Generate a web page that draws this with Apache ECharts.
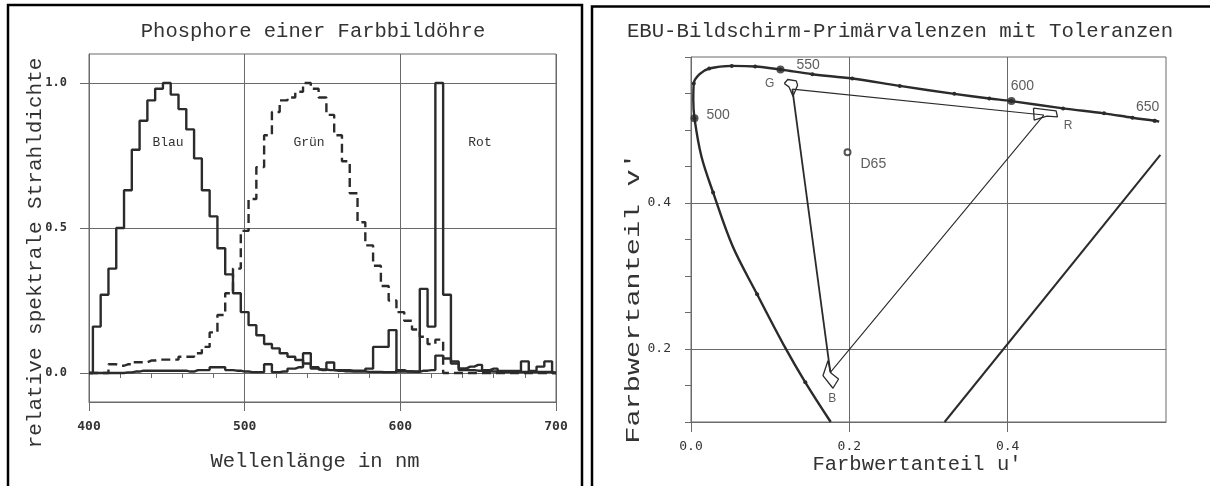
<!DOCTYPE html>
<html>
<head>
<meta charset="utf-8">
<script src="https://cdn.jsdelivr.net/npm/echarts@6/dist/echarts.min.js"></script>
<style>
  html, body { margin: 0; padding: 0; background: #fff; }
  #chart { width: 1210px; height: 486px; }
</style>
</head>
<body>
<div id="chart"></div>
<script>
// ---- linkes Diagramm: Phosphore, 5-nm-Klassen (Klassenmitte) ----
const wavelengths = [400, 405, 410, 415, 420, 425, 430, 435, 440, 445, 450, 455, 460, 465, 470, 475, 480, 485, 490, 495,
  500, 505, 510, 515, 520, 525, 530, 535, 540, 545, 550, 555, 560, 565, 570, 575, 580, 585, 590, 595,
  600, 605, 610, 615, 620, 625, 630, 635, 640, 645, 650, 655, 660, 665, 670, 675, 680, 685, 690, 695, 700];
const blauValues = [0, 0.16, 0.27, 0.36, 0.50, 0.63, 0.77, 0.87, 0.94, 0.98, 1.00, 0.96, 0.91, 0.84, 0.74, 0.63, 0.54, 0.43, 0.34, 0.275,
  0.21, 0.165, 0.13, 0.10, 0.085, 0.068, 0.056, 0.045, 0.033, 0.02, 0.012, 0.01, 0.008, 0.006, 0.005, 0.005, 0.004, 0.004, 0.003, 0.003,
  0.01, 0.005, 0.004, 0.008, 0.01, 0.06, 0.05, 0.033, 0.016, 0.022, 0.028, 0.01, 0.015, 0.007, 0.007, 0.007, 0.04, 0.007, 0.022, 0.04, 0];
const gruenValues = [0, 0, 0, 0.03, 0.025, 0.03, 0.037, 0.037, 0.043, 0.046, 0.046, 0.046, 0.056, 0.056, 0.068, 0.09, 0.14, 0.20, 0.275, 0.36,
  0.49, 0.60, 0.71, 0.82, 0.90, 0.94, 0.95, 0.97, 1.00, 0.98, 0.95, 0.89, 0.82, 0.73, 0.62, 0.52, 0.44, 0.37, 0.30, 0.25,
  0.21, 0.18, 0.15, 0.125, 0.10, 0.115, 0, 0, 0, 0, 0, 0, 0, 0, 0, 0, 0, 0, 0, 0, 0];
const rotValues = [0, 0, 0, 0, 0, 0.002, 0.005, 0.008, 0.008, 0.008, 0.008, 0.008, 0.008, 0.005, 0.01, 0.01, 0.02, 0.02, 0.01, 0.008,
  0.005, 0.003, 0.003, 0.03, 0.003, 0.005, 0.015, 0.02, 0.068, 0.015, 0.01, 0.036, 0.01, 0.01, 0.008, 0.008, 0.015, 0.09, 0.09, 0.148,
  0.005, 0.005, 0.005, 0.29, 0.16, 1.0, 0.27, 0.04, 0.01, 0.01, 0.008, 0.006, 0.005, 0.004, 0.004, 0.004, 0.004, 0.004, 0.004, 0.004, 0];
const spectrumYTicks = [0, 0.5, 1.0];

// ---- rechtes Diagramm: u'v'-Farbtafel ----
const locusU = [0.1765, 0.1444, 0.1188, 0.0835, 0.0525, 0.0279, 0.0132, 0.0044, 0.0029, 0.0035, 0.0108, 0.0230, 0.0515,
  0.0810, 0.1130, 0.1533, 0.2038, 0.2638, 0.3326, 0.3768, 0.4048, 0.4700, 0.5217, 0.5576, 0.5856, 0.5914];
const locusV = [0.100, 0.1544, 0.2022, 0.2750, 0.3410, 0.4145, 0.4636, 0.5160, 0.5410, 0.5637, 0.5764, 0.5842, 0.5878,
  0.5870, 0.5828, 0.5764, 0.5705, 0.5604, 0.5495, 0.5432, 0.5396, 0.5296, 0.5228, 0.5168, 0.5127, 0.5114];
const locusDot = [0, 1, 0, 1, 0, 1, 0, 1, 0, 1, 0, 1, 1, 1, 1, 1, 1, 1, 1, 1, 1, 1, 1, 1, 1, 0];
const markedNm = ['500', '550', '600', '650'];
const markedU = [0.0044, 0.1130, 0.4048, 0.5856];
const markedV = [0.5160, 0.5828, 0.5396, 0.5127];
const purpleU = [0.3203, 0.5929];
const purpleV = [0.100, 0.4659];
const primaryNames = ['G', 'R', 'B'];
const primaryU = [0.128, 0.4456, 0.176];
const primaryV = [0.556, 0.5205, 0.168];
const tolGU = [0.1178, 0.1222, 0.1330, 0.1346, 0.1288, 0.1237, 0.1178];
const tolGV = [0.5637, 0.5692, 0.5673, 0.5614, 0.5464, 0.5591, 0.5637];
const tolRU = [0.4326, 0.4612, 0.4629, 0.4495, 0.4335, 0.4326];
const tolRV = [0.5300, 0.5263, 0.5181, 0.5190, 0.5136, 0.5300];
const tolBU = [0.1730, 0.1667, 0.1793, 0.1864, 0.1768, 0.1730];
const tolBV = [0.1839, 0.1634, 0.1462, 0.1589, 0.1671, 0.1839];
const d65U = [0.1977];
const d65V = [0.4696];
const uvXTicks = [0, 0.2, 0.4];
const uvYTicks = [0.1, 0.2, 0.4];
const uvYLabels = [0.2, 0.4];
const uvMinorTicks = [0.1, 0.15, 0.2, 0.25, 0.3, 0.35, 0.4, 0.45, 0.5, 0.55, 0.6];

const pairs = (xs, ys) => xs.map((x, i) => [x, ys[i]]);

const ink = '#2b2b2b';
const gridInk = '#6a6a6a';
const textInk = '#333';
const mono = '"Liberation Mono", "DejaVu Sans Mono", monospace';
const tickFont = { fontFamily: '"DejaVu Sans Mono", monospace', fontSize: 13, fontWeight: 'bold', color: textInk };

const chart = echarts.init(document.getElementById('chart'), null, { renderer: 'canvas' });

const option = {
  animation: false,
  backgroundColor: '#fff',
  grid: [
    { left: 89, top: 54, width: 467, height: 348, show: true, borderColor: gridInk, borderWidth: 1 },
    { left: 691, top: 57, width: 475, height: 365, show: true, borderColor: gridInk, borderWidth: 1 }
  ],
  xAxis: [
    {
      gridIndex: 0, type: 'value', min: 400, max: 700, interval: 100, position: 'bottom',
      axisLine: { show: true, onZero: false, lineStyle: { color: gridInk } },
      axisTick: { show: true, length: 9, lineStyle: { color: gridInk } },
      axisLabel: Object.assign({ margin: 18 }, tickFont),
      splitLine: { show: true, lineStyle: { color: gridInk, width: 1 } }
    },
    {
      // Teilstriche auf der Nulllinie
      gridIndex: 0, type: 'value', min: 400, max: 700, interval: 20, position: 'bottom',
      axisLine: { show: true, onZero: true, lineStyle: { color: gridInk } },
      axisTick: { show: true, length: 5, lineStyle: { color: gridInk } },
      axisLabel: { show: false },
      splitLine: { show: false }
    },
    {
      gridIndex: 1, type: 'value', min: 0, max: 0.6, position: 'bottom',
      axisLine: { show: true, onZero: false, lineStyle: { color: gridInk } },
      axisTick: { show: true, length: 10, customValues: uvXTicks, lineStyle: { color: gridInk } },
      axisLabel: Object.assign({ margin: 18, customValues: uvXTicks, formatter: v => v.toFixed(1) }, tickFont, { fontWeight: 'normal' }),
      splitLine: { show: true, lineStyle: { color: gridInk, width: 1 } }
    }
  ],
  yAxis: [
    {
      gridIndex: 0, type: 'value', min: -0.1, max: 1.1, position: 'left',
      axisLine: { show: true, onZero: false, lineStyle: { color: gridInk } },
      axisTick: { show: true, length: 9, customValues: spectrumYTicks, lineStyle: { color: gridInk } },
      axisLabel: Object.assign({ margin: 22, customValues: spectrumYTicks, formatter: v => v.toFixed(1) }, tickFont, { fontSize: 12 }),
      splitLine: { show: true, lineStyle: { color: gridInk, width: 1 } }
    },
    {
      gridIndex: 1, type: 'value', min: 0.1, max: 0.6, position: 'left',
      axisLine: { show: true, onZero: false, lineStyle: { color: gridInk } },
      axisTick: { show: false, customValues: uvYTicks },
      axisLabel: Object.assign({ margin: 20, customValues: uvYLabels, formatter: v => v.toFixed(1) }, tickFont, { fontWeight: 'normal' }),
      splitLine: { show: true, lineStyle: { color: gridInk, width: 1 } }
    },
    {
      gridIndex: 1, type: 'value', min: 0.1, max: 0.6, position: 'left',
      axisLine: { show: false, onZero: false },
      axisTick: { show: true, length: 6, customValues: uvMinorTicks, lineStyle: { color: gridInk } },
      axisLabel: { show: false },
      splitLine: { show: false }
    }
  ],
  series: [
    {
      name: 'Blau', type: 'line', step: 'middle', xAxisIndex: 0, yAxisIndex: 0,
      data: pairs(wavelengths, blauValues), symbol: 'none',
      lineStyle: { color: ink, width: 2.4 }, z: 4
    },
    {
      name: 'Grün', type: 'line', step: 'middle', xAxisIndex: 0, yAxisIndex: 0,
      data: pairs(wavelengths, gruenValues), symbol: 'none',
      lineStyle: { color: ink, width: 2.4, type: [9, 5] }, z: 3
    },
    {
      name: 'Rot', type: 'line', step: 'middle', xAxisIndex: 0, yAxisIndex: 0,
      data: pairs(wavelengths, rotValues), symbol: 'none',
      lineStyle: { color: ink, width: 2.4 }, z: 4
    },
    {
      name: 'Spektralzug', type: 'line', xAxisIndex: 2, yAxisIndex: 1, smooth: 0.35,
      data: locusU.map((u, i) => ({ value: [u, locusV[i]], symbolSize: locusDot[i] ? 4 : 0 })),
      symbol: 'circle', showSymbol: true,
      itemStyle: { color: ink }, lineStyle: { color: ink, width: 2.4 }, z: 4
    },
    {
      name: 'Wellenlängen', type: 'scatter', xAxisIndex: 2, yAxisIndex: 1,
      data: markedNm.map((nm, i) => ({
        value: [markedU[i], markedV[i]], name: nm,
        symbolSize: nm === '650' ? 4 : 8,
        label: [
          { position: 'right', distance: 8, offset: [0, -3] },
          { position: 'right', distance: 12, offset: [0, -4] },
          { position: 'top', distance: 4, offset: [11, 0] },
          { position: 'top', distance: 5, offset: [-7, 0] }
        ][i]
      })),
      itemStyle: { color: ink },
      label: { show: true, formatter: p => p.name, fontFamily: '"Liberation Sans", Arial, sans-serif', fontSize: 14, color: textInk },
      z: 5
    },
    {
      name: 'Purpurgerade', type: 'line', xAxisIndex: 2, yAxisIndex: 1,
      data: pairs(purpleU, purpleV), symbol: 'none',
      lineStyle: { color: ink, width: 2 }, z: 3
    },
    {
      name: 'Dreieck', type: 'line', xAxisIndex: 2, yAxisIndex: 1,
      data: pairs(primaryU, primaryV), symbol: 'none',
      lineStyle: { color: ink, width: 1.1 }, z: 3
    },
    {
      name: 'G-B', type: 'line', xAxisIndex: 2, yAxisIndex: 1,
      data: [[primaryU[0], primaryV[0]], [primaryU[2], primaryV[2]]], symbol: 'none',
      lineStyle: { color: ink, width: 1.8 }, z: 3
    },
    {
      name: 'Toleranz G', type: 'line', xAxisIndex: 2, yAxisIndex: 1,
      data: pairs(tolGU, tolGV), symbol: 'none', lineStyle: { color: ink, width: 1.3 }, z: 3
    },
    {
      name: 'Toleranz R', type: 'line', xAxisIndex: 2, yAxisIndex: 1,
      data: pairs(tolRU, tolRV), symbol: 'none', lineStyle: { color: ink, width: 1.3 }, z: 3
    },
    {
      name: 'Toleranz B', type: 'line', xAxisIndex: 2, yAxisIndex: 1,
      data: pairs(tolBU, tolBV), symbol: 'none', lineStyle: { color: ink, width: 1.3 }, z: 3
    },
    {
      name: 'Primärvalenzen', type: 'scatter', xAxisIndex: 2, yAxisIndex: 1, symbolSize: 0,
      data: primaryNames.map((n, i) => ({
        value: [primaryU[i], primaryV[i]], name: n,
        label: [
          { position: 'left', distance: 18, offset: [0, -5] },
          { position: 'right', distance: 20, offset: [0, 11] },
          { position: 'bottom', distance: 20, offset: [2, 0] }
        ][i]
      })),
      label: { show: true, formatter: p => p.name, fontFamily: '"Liberation Sans", Arial, sans-serif', fontSize: 12, color: textInk },
      z: 5
    },
    {
      name: 'D65', type: 'scatter', xAxisIndex: 2, yAxisIndex: 1,
      data: pairs(d65U, d65V), symbol: 'emptyCircle', symbolSize: 6,
      itemStyle: { color: ink, borderColor: ink, borderWidth: 1.2 },
      label: { show: true, formatter: 'D65', position: 'right', distance: 9, offset: [0, 12],
        fontFamily: '"Liberation Sans", Arial, sans-serif', fontSize: 14, color: textInk },
      z: 5
    }
  ],
  graphic: [
    // Rahmen der beiden Tafeln
    { type: 'polyline', shape: { points: [[8, 490], [8, 5], [582, 5], [582, 490]] }, style: { stroke: '#000', lineWidth: 2.5, fill: null } },
    { type: 'polyline', shape: { points: [[592, 490], [592, 6.5], [1215, 6.5]] }, style: { stroke: '#000', lineWidth: 2.5, fill: null } },
    // Titel und Achsenbeschriftungen
    { type: 'text', x: 313, y: 32, style: { text: 'Phosphore einer Farbbildöhre', font: '20.5px ' + mono, fill: textInk, align: 'center', verticalAlign: 'middle' } },
    { type: 'text', x: 315, y: 462, style: { text: 'Wellenlänge in nm', font: '20.5px ' + mono, fill: textInk, align: 'center', verticalAlign: 'middle' } },
    { type: 'text', x: 35, y: 253, rotation: Math.PI / 2, style: { text: 'relative spektrale Strahldichte', font: '21px ' + mono, fill: textInk, align: 'center', verticalAlign: 'middle' } },
    { type: 'text', x: 168, y: 143, style: { text: 'Blau', font: '13px ' + mono, fill: textInk, align: 'center', verticalAlign: 'middle' } },
    { type: 'text', x: 309, y: 143, style: { text: 'Grün', font: '13px ' + mono, fill: textInk, align: 'center', verticalAlign: 'middle' } },
    { type: 'text', x: 480, y: 143, style: { text: 'Rot', font: '13px ' + mono, fill: textInk, align: 'center', verticalAlign: 'middle' } },
    { type: 'text', x: 900, y: 32, style: { text: 'EBU-Bildschirm-Primärvalenzen mit Toleranzen', font: '20.7px ' + mono, fill: textInk, align: 'center', verticalAlign: 'middle' } },
    { type: 'text', x: 917, y: 465, style: { text: "Farbwertanteil u'", font: '20.5px ' + mono, fill: textInk, align: 'center', verticalAlign: 'middle' } },
    { type: 'text', x: 633, y: 298, rotation: Math.PI / 2, scaleX: 1.36, style: { text: "Farbwertanteil v'", font: '21px ' + mono, fill: textInk, align: 'center', verticalAlign: 'middle' } }
  ]
};

chart.setOption(option);
window.addEventListener('resize', () => chart.resize());
</script>
</body>
</html>
